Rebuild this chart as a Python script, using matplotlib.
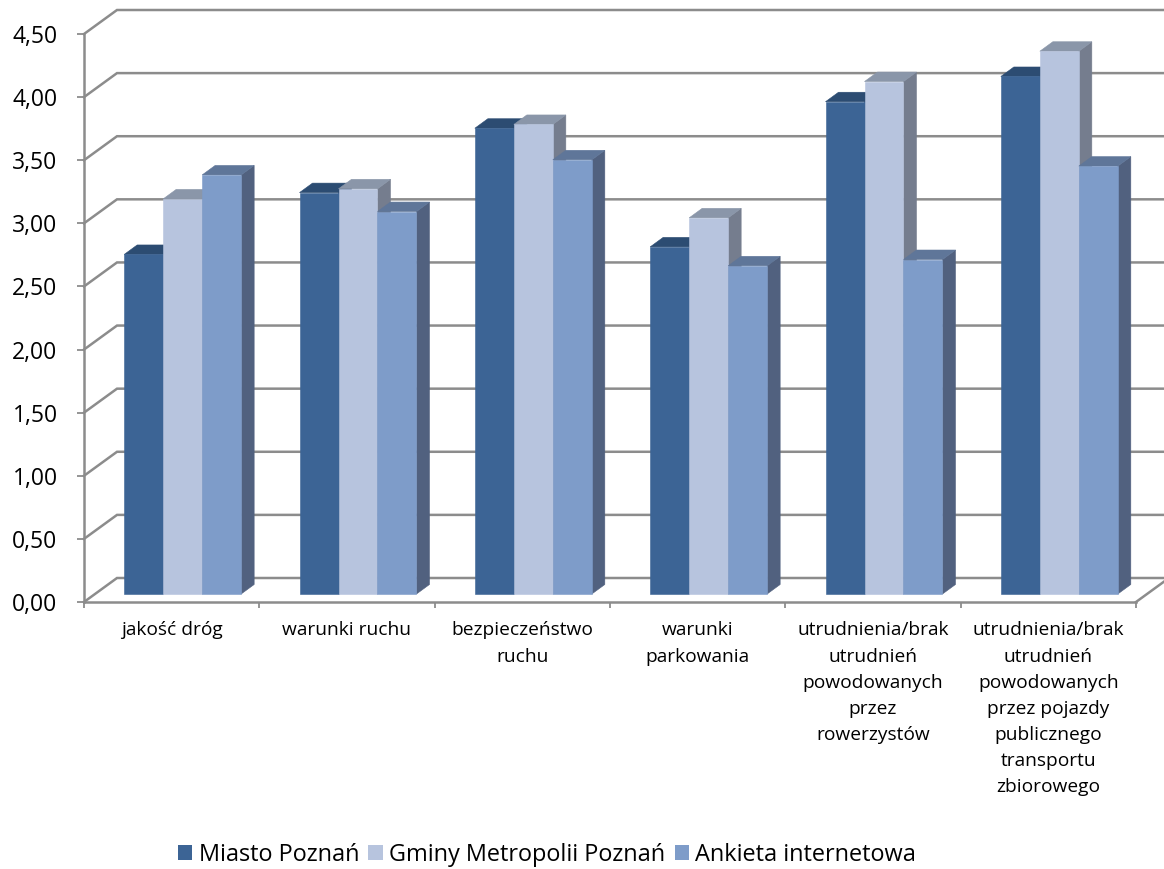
import matplotlib
matplotlib.use("Agg")
import matplotlib.pyplot as plt
from matplotlib.patches import Polygon, Patch

plt.rcParams['font.family'] = ['Open Sans', 'DejaVu Sans']

# --- data -------------------------------------------------------------
categories = [
    "jakość dróg",
    "warunki ruchu",
    "bezpieczeństwo\nruchu",
    "warunki\nparkowania",
    "utrudnienia/brak\nutrudnień\npowodowanych\nprzez\nrowerzystów",
    "utrudnienia/brak\nutrudnień\npowodowanych\nprzez pojazdy\npublicznego\ntransportu\nzbiorowego",
]
series_names = ["Miasto Poznań", "Gminy Metropolii Poznań", "Ankieta internetowa"]
miasto = [2.69, 3.18, 3.69, 2.75, 3.90, 4.10]
gminy = [3.13, 3.21, 3.72, 2.98, 4.06, 4.30]
ankieta = [3.32, 3.03, 3.44, 2.60, 2.65, 3.39]
y_ticks = [0.0, 0.5, 1.0, 1.5, 2.0, 2.5, 3.0, 3.5, 4.0, 4.5]
y_tick_labels = ["0,00", "0,50", "1,00", "1,50", "2,00", "2,50", "3,00", "3,50", "4,00", "4,50"]

series = [miasto, gminy, ankieta]
# front, top, side face colours for each series
face_colors = [
    ("#3C6495", "#2C4C72", "#2E4A70"),
    ("#B7C4DE", "#8A96A9", "#757D8E"),
    ("#7E9CC9", "#5F7699", "#51617F"),
]
grid_color = "#8C8C8C"

W, H, DPI = 1164, 869, 100
fig = plt.figure(figsize=(W / DPI, H / DPI), dpi=DPI)
ax = fig.add_axes([84 / W, (H - 602) / H, 1052 / W, 568 / H])
n = len(categories)
ax.set_xlim(0, n)
ax.set_ylim(0, 4.5)

# pixel -> data conversion for the oblique depth offsets
px_x = ax.bbox.width / n
px_y = ax.bbox.height / 4.5
wall_dx, wall_dy = 33 / px_x, 24 / px_y      # back wall
bar_dx, bar_dy = 11 / px_x, 8 / px_y         # front plane of the bars
dep_dx, dep_dy = 13 / px_x, 9.5 / px_y       # bar depth

# back wall gridlines with the left side wall diagonals
for v in y_ticks:
    ax.plot([0, wall_dx, n + wall_dx + 0.5], [v, v + wall_dy, v + wall_dy],
            color=grid_color, lw=1.8, clip_on=False, zorder=1,
            solid_joinstyle='miter')
# right floor edge
ax.plot([n, n + wall_dx], [0, wall_dy], color=grid_color, lw=1.8,
        clip_on=False, zorder=1)

# 3D-looking bars
bar_w = 0.2224
for i in range(n):
    for s, vals in enumerate(series):
        v = vals[i]
        x0 = i + 0.5 - 1.5 * bar_w + s * bar_w + bar_dx
        x1 = x0 + bar_w
        y0 = bar_dy
        y1 = v + bar_dy
        front_c, top_c, side_c = face_colors[s]
        z = 3 + i * 10 + s * 3
        side = Polygon([(x1, y0), (x1 + dep_dx, y0 + dep_dy),
                        (x1 + dep_dx, y1 + dep_dy), (x1, y1)],
                       closed=True, facecolor=side_c, edgecolor=side_c,
                       lw=0.4, zorder=z, clip_on=False)
        top = Polygon([(x0, y1), (x1, y1), (x1 + dep_dx, y1 + dep_dy),
                       (x0 + dep_dx, y1 + dep_dy)],
                      closed=True, facecolor=top_c, edgecolor=top_c,
                      lw=0.4, zorder=z + 1, clip_on=False)
        front = Polygon([(x0, y0), (x1, y0), (x1, y1), (x0, y1)],
                        closed=True, facecolor=front_c, edgecolor=front_c,
                        lw=0.4, zorder=z + 2, clip_on=False)
        ax.add_patch(side)
        ax.add_patch(top)
        ax.add_patch(front)

# axes: front left edge and front floor edge
for name in ["top", "right"]:
    ax.spines[name].set_visible(False)
for name in ["left", "bottom"]:
    ax.spines[name].set_color(grid_color)
    ax.spines[name].set_linewidth(1.8)
    ax.spines[name].set_zorder(2)
ax.set_facecolor("none")

ax.set_yticks(y_ticks)
ax.set_yticklabels(y_tick_labels, fontsize=16.5, color="black")
ax.tick_params(axis="y", direction="out", length=5, width=1.3,
               color=grid_color, pad=14)

ax.set_xticks(range(n + 1))
ax.set_xticklabels([])
ax.tick_params(axis="x", which="major", direction="out", length=4.5,
               width=1.3, color=grid_color)
ax.set_xticks([i + 0.5 for i in range(n)], minor=True)
ax.set_xticklabels(categories, minor=True, fontsize=13.8,
                   linespacing=1.58, va="top")
ax.tick_params(axis="x", which="minor", length=0, pad=14)

handles = [Patch(facecolor=c[0], edgecolor="none") for c in face_colors]
fig.legend(handles, series_names, loc="center",
           bbox_to_anchor=(547 / W, 1 - 855 / H), ncol=3, frameon=False,
           fontsize=16.9, handlelength=0.62, handleheight=0.62,
           handletextpad=0.26, columnspacing=0.4, borderaxespad=0)

fig.savefig("out.png", dpi=DPI)
